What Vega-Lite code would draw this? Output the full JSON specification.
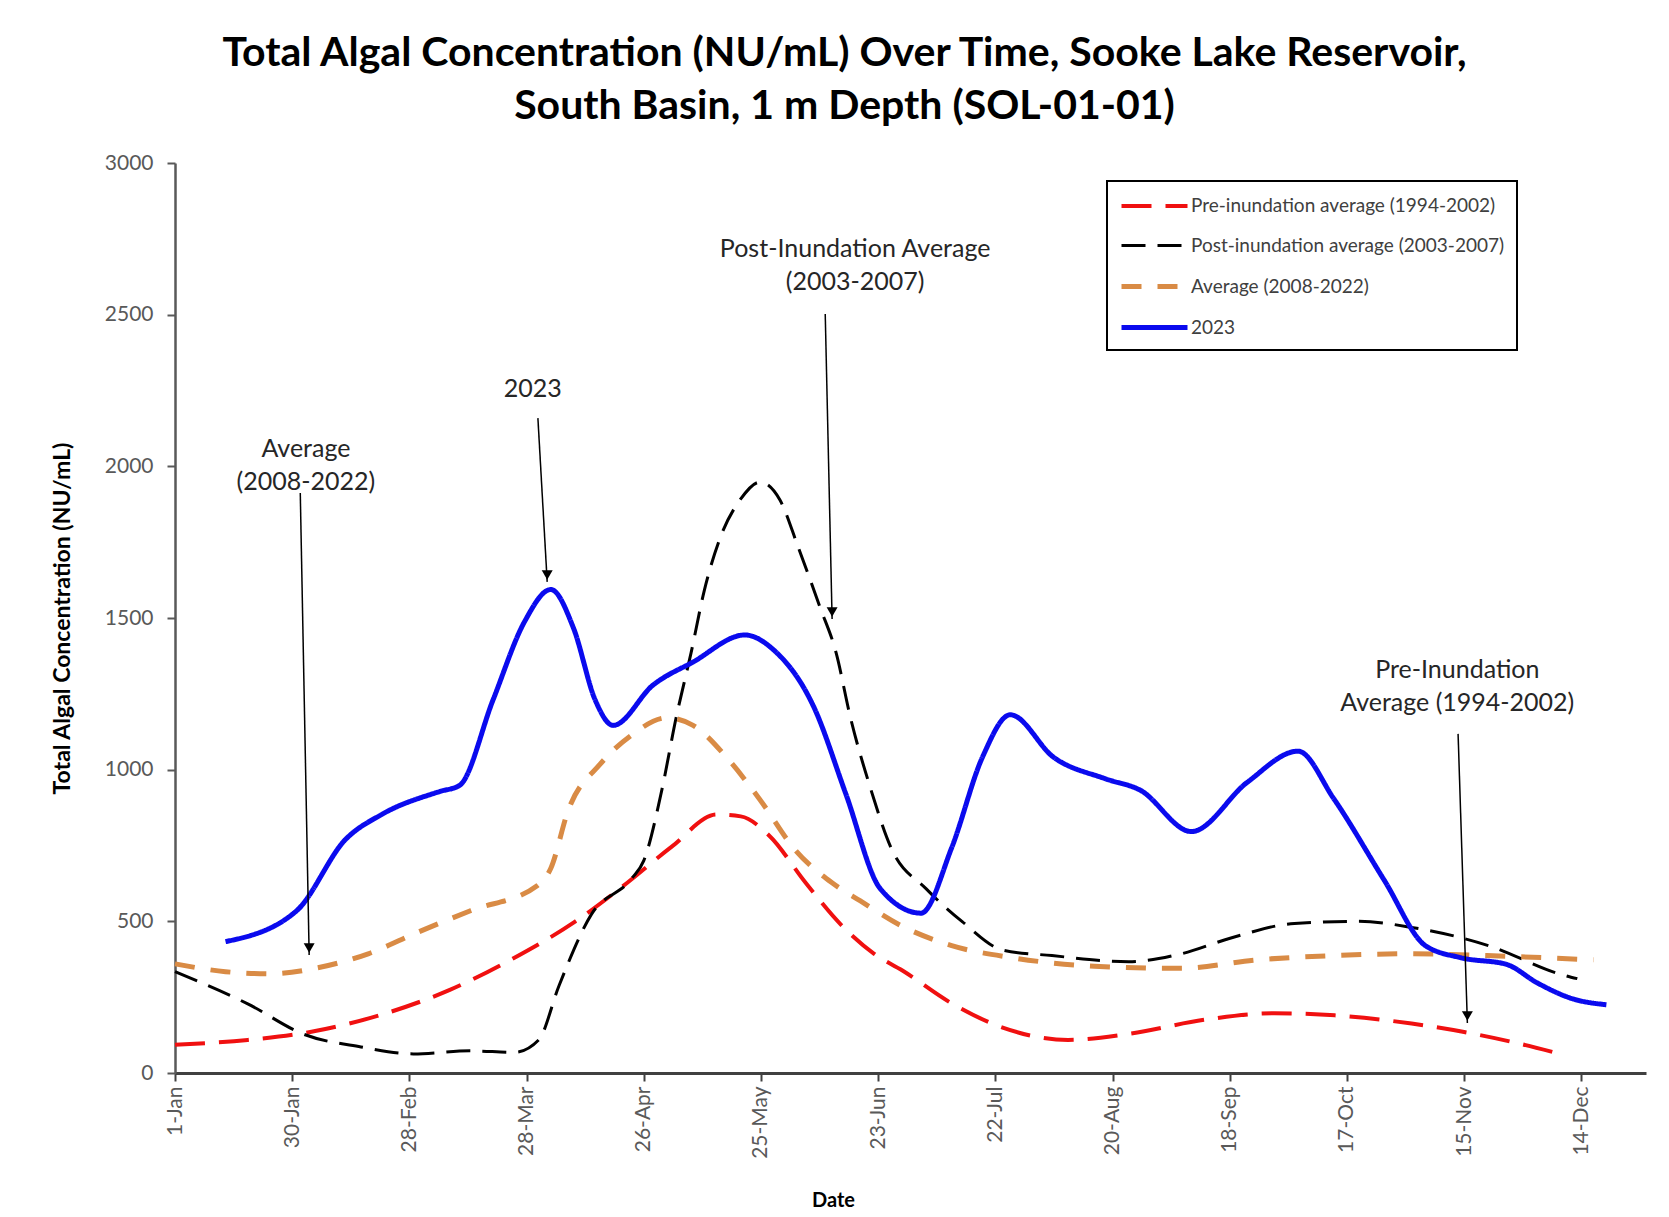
{
  "$schema": "https://vega.github.io/schema/vega-lite/v6.json",
  "width": 1471,
  "height": 910,
  "autosize": {"type": "none"},
  "padding": {"left": 175, "top": 163, "right": 23, "bottom": 144},
  "background": "white",
  "title": {
    "text": ["Total Algal Concentration (NU/mL) Over Time, Sooke Lake Reservoir,", "South Basin, 1 m Depth (SOL-01-01)"],
    "font": "Lato",
    "fontSize": 41,
    "fontWeight": "bold",
    "color": "#000000",
    "lineHeight": 53,
    "anchor": "middle",
    "dx": -66,
    "offset": 24
  },
  "config": {
    "view": {"stroke": null},
    "font": "Lato"
  },
  "layer": [
    {
      "data": {
        "values": [
          {"series": "Pre-inundation average (1994-2002)", "day": 0, "value": 93},
          {"series": "Pre-inundation average (1994-2002)", "day": 18, "value": 109},
          {"series": "Pre-inundation average (1994-2002)", "day": 35, "value": 139},
          {"series": "Pre-inundation average (1994-2002)", "day": 51, "value": 192},
          {"series": "Pre-inundation average (1994-2002)", "day": 68, "value": 274},
          {"series": "Pre-inundation average (1994-2002)", "day": 84, "value": 380},
          {"series": "Pre-inundation average (1994-2002)", "day": 99, "value": 499},
          {"series": "Pre-inundation average (1994-2002)", "day": 112, "value": 628},
          {"series": "Pre-inundation average (1994-2002)", "day": 123, "value": 747},
          {"series": "Pre-inundation average (1994-2002)", "day": 134, "value": 852},
          {"series": "Pre-inundation average (1994-2002)", "day": 140, "value": 846},
          {"series": "Pre-inundation average (1994-2002)", "day": 147, "value": 783},
          {"series": "Pre-inundation average (1994-2002)", "day": 156, "value": 628},
          {"series": "Pre-inundation average (1994-2002)", "day": 165, "value": 486},
          {"series": "Pre-inundation average (1994-2002)", "day": 173, "value": 393},
          {"series": "Pre-inundation average (1994-2002)", "day": 180, "value": 338},
          {"series": "Pre-inundation average (1994-2002)", "day": 192, "value": 231},
          {"series": "Pre-inundation average (1994-2002)", "day": 205, "value": 149},
          {"series": "Pre-inundation average (1994-2002)", "day": 221, "value": 109},
          {"series": "Pre-inundation average (1994-2002)", "day": 236, "value": 129},
          {"series": "Pre-inundation average (1994-2002)", "day": 255, "value": 176},
          {"series": "Pre-inundation average (1994-2002)", "day": 272, "value": 197},
          {"series": "Pre-inundation average (1994-2002)", "day": 287, "value": 190},
          {"series": "Pre-inundation average (1994-2002)", "day": 306, "value": 163},
          {"series": "Pre-inundation average (1994-2002)", "day": 319, "value": 135},
          {"series": "Pre-inundation average (1994-2002)", "day": 331, "value": 102},
          {"series": "Pre-inundation average (1994-2002)", "day": 341, "value": 69},

          {"series": "Post-inundation average (2003-2007)", "day": 0, "value": 334},
          {"series": "Post-inundation average (2003-2007)", "day": 18, "value": 228},
          {"series": "Post-inundation average (2003-2007)", "day": 32, "value": 127},
          {"series": "Post-inundation average (2003-2007)", "day": 46, "value": 86},
          {"series": "Post-inundation average (2003-2007)", "day": 59, "value": 63},
          {"series": "Post-inundation average (2003-2007)", "day": 73, "value": 73},
          {"series": "Post-inundation average (2003-2007)", "day": 84, "value": 68},
          {"series": "Post-inundation average (2003-2007)", "day": 90, "value": 109},
          {"series": "Post-inundation average (2003-2007)", "day": 95, "value": 287},
          {"series": "Post-inundation average (2003-2007)", "day": 103, "value": 522},
          {"series": "Post-inundation average (2003-2007)", "day": 113, "value": 641},
          {"series": "Post-inundation average (2003-2007)", "day": 116, "value": 700},
          {"series": "Post-inundation average (2003-2007)", "day": 120.5, "value": 935},
          {"series": "Post-inundation average (2003-2007)", "day": 124, "value": 1171},
          {"series": "Post-inundation average (2003-2007)", "day": 127.7, "value": 1385},
          {"series": "Post-inundation average (2003-2007)", "day": 131, "value": 1592},
          {"series": "Post-inundation average (2003-2007)", "day": 134.9, "value": 1764},
          {"series": "Post-inundation average (2003-2007)", "day": 139.8, "value": 1889},
          {"series": "Post-inundation average (2003-2007)", "day": 144.8, "value": 1948},
          {"series": "Post-inundation average (2003-2007)", "day": 149.7, "value": 1889},
          {"series": "Post-inundation average (2003-2007)", "day": 154.2, "value": 1734},
          {"series": "Post-inundation average (2003-2007)", "day": 159.6, "value": 1536},
          {"series": "Post-inundation average (2003-2007)", "day": 163.6, "value": 1385},
          {"series": "Post-inundation average (2003-2007)", "day": 167.1, "value": 1174},
          {"series": "Post-inundation average (2003-2007)", "day": 172, "value": 943},
          {"series": "Post-inundation average (2003-2007)", "day": 177.2, "value": 742},
          {"series": "Post-inundation average (2003-2007)", "day": 185.9, "value": 607},
          {"series": "Post-inundation average (2003-2007)", "day": 194.8, "value": 499},
          {"series": "Post-inundation average (2003-2007)", "day": 204.9, "value": 405},
          {"series": "Post-inundation average (2003-2007)", "day": 217, "value": 387},
          {"series": "Post-inundation average (2003-2007)", "day": 236, "value": 367},
          {"series": "Post-inundation average (2003-2007)", "day": 249, "value": 393},
          {"series": "Post-inundation average (2003-2007)", "day": 261.5, "value": 446},
          {"series": "Post-inundation average (2003-2007)", "day": 277, "value": 493},
          {"series": "Post-inundation average (2003-2007)", "day": 293, "value": 500},
          {"series": "Post-inundation average (2003-2007)", "day": 306, "value": 480},
          {"series": "Post-inundation average (2003-2007)", "day": 325, "value": 420},
          {"series": "Post-inundation average (2003-2007)", "day": 343, "value": 325},
          {"series": "Post-inundation average (2003-2007)", "day": 347, "value": 311},

          {"series": "Average (2008-2022)", "day": 0, "value": 360},
          {"series": "Average (2008-2022)", "day": 12.5, "value": 334},
          {"series": "Average (2008-2022)", "day": 23.5, "value": 327},
          {"series": "Average (2008-2022)", "day": 34.6, "value": 345},
          {"series": "Average (2008-2022)", "day": 47.8, "value": 393},
          {"series": "Average (2008-2022)", "day": 59.9, "value": 463},
          {"series": "Average (2008-2022)", "day": 73.1, "value": 535},
          {"series": "Average (2008-2022)", "day": 89.7, "value": 618},
          {"series": "Average (2008-2022)", "day": 93, "value": 675},
          {"series": "Average (2008-2022)", "day": 97.3, "value": 866},
          {"series": "Average (2008-2022)", "day": 105.2, "value": 1018},
          {"series": "Average (2008-2022)", "day": 112.9, "value": 1113},
          {"series": "Average (2008-2022)", "day": 121.7, "value": 1171},
          {"series": "Average (2008-2022)", "day": 128.2, "value": 1146},
          {"series": "Average (2008-2022)", "day": 137.1, "value": 1031},
          {"series": "Average (2008-2022)", "day": 144.8, "value": 900},
          {"series": "Average (2008-2022)", "day": 153.6, "value": 733},
          {"series": "Average (2008-2022)", "day": 162.5, "value": 628},
          {"series": "Average (2008-2022)", "day": 169.5, "value": 568},
          {"series": "Average (2008-2022)", "day": 179.6, "value": 486},
          {"series": "Average (2008-2022)", "day": 192.2, "value": 420},
          {"series": "Average (2008-2022)", "day": 207.2, "value": 380},
          {"series": "Average (2008-2022)", "day": 227.5, "value": 352},
          {"series": "Average (2008-2022)", "day": 248.9, "value": 345},
          {"series": "Average (2008-2022)", "day": 267.8, "value": 373},
          {"series": "Average (2008-2022)", "day": 286.7, "value": 387},
          {"series": "Average (2008-2022)", "day": 305.6, "value": 393},
          {"series": "Average (2008-2022)", "day": 324.6, "value": 387},
          {"series": "Average (2008-2022)", "day": 351, "value": 373},

          {"series": "2023", "day": 12.5, "value": 433},
          {"series": "2023", "day": 30.1, "value": 535},
          {"series": "2023", "day": 42.2, "value": 770},
          {"series": "2023", "day": 51.1, "value": 852},
          {"series": "2023", "day": 65.5, "value": 928},
          {"series": "2023", "day": 70.4, "value": 948},
          {"series": "2023", "day": 78.7, "value": 1230},
          {"series": "2023", "day": 86.5, "value": 1488},
          {"series": "2023", "day": 93, "value": 1594},
          {"series": "2023", "day": 98.6, "value": 1467},
          {"series": "2023", "day": 104, "value": 1229},
          {"series": "2023", "day": 108.4, "value": 1146},
          {"series": "2023", "day": 118.3, "value": 1279},
          {"series": "2023", "day": 128.2, "value": 1355},
          {"series": "2023", "day": 141, "value": 1444},
          {"series": "2023", "day": 148.2, "value": 1394},
          {"series": "2023", "day": 158.1, "value": 1206},
          {"series": "2023", "day": 166, "value": 920},
          {"series": "2023", "day": 174.5, "value": 608},
          {"series": "2023", "day": 184.6, "value": 527},
          {"series": "2023", "day": 192.2, "value": 743},
          {"series": "2023", "day": 199.8, "value": 1041},
          {"series": "2023", "day": 206.7, "value": 1181},
          {"series": "2023", "day": 217.4, "value": 1041},
          {"series": "2023", "day": 230, "value": 971},
          {"series": "2023", "day": 238.9, "value": 932},
          {"series": "2023", "day": 251.5, "value": 796},
          {"series": "2023", "day": 265.3, "value": 958},
          {"series": "2023", "day": 277.9, "value": 1061},
          {"series": "2023", "day": 286.7, "value": 905},
          {"series": "2023", "day": 299.3, "value": 634},
          {"series": "2023", "day": 309.4, "value": 420},
          {"series": "2023", "day": 318.2, "value": 380},
          {"series": "2023", "day": 329.5, "value": 358},
          {"series": "2023", "day": 337.1, "value": 297},
          {"series": "2023", "day": 346, "value": 244},
          {"series": "2023", "day": 354.2, "value": 225}
        ]
      },
      "mark": {"type": "line", "interpolate": "monotone"},
      "encoding": {
        "x": {
          "field": "day",
          "type": "quantitative",
          "scale": {"domain": [0, 364], "nice": false, "zero": false},
          "axis": {
            "title": "Date",
            "values": [0, 29, 58, 87, 116, 145, 174, 203, 232, 261, 290, 319, 348],
            "labelExpr": "['1-Jan','30-Jan','28-Feb','28-Mar','26-Apr','25-May','23-Jun','22-Jul','20-Aug','18-Sep','17-Oct','15-Nov','14-Dec'][round(datum.value/29)]",
            "labelAngle": -90,
            "labelAlign": "right",
            "labelBaseline": "middle",
            "labelFont": "Lato",
            "labelFontSize": 21,
            "labelColor": "#595959",
            "labelPadding": 5,
            "tickSize": 8,
            "tickColor": "#404040",
            "tickWidth": 2,
            "domainColor": "#404040",
            "domainWidth": 3,
            "grid": false,
            "titleFont": "Lato",
            "titleFontSize": 20,
            "titleFontWeight": "bold",
            "titleColor": "#000000",
            "titleX": 658,
            "titleY": 127,
            "titleBaseline": "middle",
            "titleAlign": "center"
          }
        },
        "y": {
          "field": "value",
          "type": "quantitative",
          "scale": {"domain": [0, 3000], "nice": false},
          "axis": {
            "title": "Total Algal Concentration (NU/mL)",
            "values": [0, 500, 1000, 1500, 2000, 2500, 3000],
            "format": "d",
            "labelFont": "Lato",
            "labelFontSize": 21,
            "labelColor": "#595959",
            "labelPadding": 14,
            "tickSize": 8,
            "tickColor": "#595959",
            "tickWidth": 2,
            "domainColor": "#595959",
            "domainWidth": 2.5,
            "grid": false,
            "titleFont": "Lato",
            "titleFontSize": 23,
            "titleFontWeight": "bold",
            "titleColor": "#000000",
            "titleX": -113,
            "titleY": 455,
            "titleBaseline": "middle",
            "titleAlign": "center",
            "titleAngle": -90
          }
        },
        "color": {
          "field": "series",
          "type": "nominal",
          "scale": {
            "domain": ["Pre-inundation average (1994-2002)", "Post-inundation average (2003-2007)", "Average (2008-2022)", "2023"],
            "range": ["#F01010", "#000000", "#D98B45", "#0A0AEE"]
          },
          "legend": {
            "title": null,
            "orient": "none",
            "legendX": 932,
            "legendY": 18,
            "direction": "vertical",
            "strokeColor": "#000000",
            "fillColor": "#FFFFFF",
            "padding": 12,
            "symbolType": "M-1,0H5",
            "symbolSize": 484,
            "symbolFillColor": "transparent",
            "labelOffset": 45,
            "labelFont": "Lato",
            "labelFontSize": 19,
            "labelColor": "#404040",
            "labelLimit": 450,
            "rowPadding": 17,
            "encode": {
              "legend": {"update": {"strokeWidth": {"value": 2}}}
            }
          }
        },
        "strokeDash": {
          "field": "series",
          "type": "nominal",
          "scale": {
            "domain": ["Pre-inundation average (1994-2002)", "Post-inundation average (2003-2007)", "Average (2008-2022)", "2023"],
            "range": [[30, 14], [24, 12], [20, 16], [1, 0]]
          },
          "legend": null
        },
        "strokeWidth": {
          "field": "series",
          "type": "nominal",
          "scale": {
            "type": "ordinal",
            "domain": ["Pre-inundation average (1994-2002)", "Post-inundation average (2003-2007)", "Average (2008-2022)", "2023"],
            "range": [4, 3, 5, 5]
          },
          "legend": null
        }
      }
    },
    {
      "data": {
        "values": [
          {"day_start": 31.0, "value_start": 1912, "day_end": 33.2, "value_end": 389},
          {"day_start": 89.8, "value_start": 2159, "day_end": 92.1, "value_end": 1619},
          {"day_start": 160.9, "value_start": 2502, "day_end": 162.6, "value_end": 1497},
          {"day_start": 317.5, "value_start": 1118, "day_end": 319.8, "value_end": 165}
        ]
      },
      "layer": [
        {
          "mark": {"type": "rule", "color": "#000000", "strokeWidth": 1.5},
          "encoding": {
            "x": {"field": "day_start", "type": "quantitative"},
            "y": {"field": "value_start", "type": "quantitative"},
            "x2": {"field": "day_end"},
            "y2": {"field": "value_end"}
          }
        },
        {
          "mark": {"type": "point", "shape": "triangle-down", "filled": true, "color": "#000000", "opacity": 1, "size": 120, "yOffset": -7},
          "encoding": {
            "x": {"field": "day_end", "type": "quantitative"},
            "y": {"field": "value_end", "type": "quantitative"}
          }
        }
      ]
    },
    {
      "data": {
        "values": [
          {"label": "Average", "day": 32.4, "value": 2057},
          {"label": "(2008-2022)", "day": 32.4, "value": 1948},
          {"label": "2023", "day": 88.5, "value": 2255},
          {"label": "Post-Inundation Average", "day": 168.3, "value": 2716},
          {"label": "(2003-2007)", "day": 168.3, "value": 2608},
          {"label": "Pre-Inundation", "day": 317.3, "value": 1329},
          {"label": "Average (1994-2002)", "day": 317.3, "value": 1220}
        ]
      },
      "mark": {"type": "text", "font": "Lato", "fontSize": 25, "color": "#262626", "align": "center", "baseline": "middle"},
      "encoding": {
        "x": {"field": "day", "type": "quantitative"},
        "y": {"field": "value", "type": "quantitative"},
        "text": {"field": "label"}
      }
    }
  ]
}
